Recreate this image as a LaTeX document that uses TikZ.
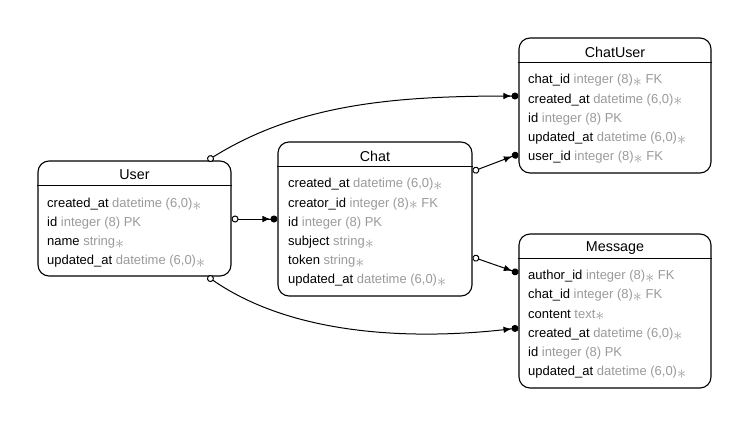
\documentclass[tikz,border=0pt]{standalone}
\usepackage{fontspec}
\usepackage{graphicx}
\setmainfont{Liberation Sans}
\usetikzlibrary{arrows.meta,calc}
\definecolor{tgray}{HTML}{9A9A9A}
\newcommand\erty[1]{\textcolor{tgray}{#1}}
\newcommand\erreq{\textcolor{tgray}{\raisebox{-2.2pt}{\scalebox{1.5}{$\ast$}}}}
\begin{document}
\begin{tikzpicture}[x=1pt,y=-1pt,
  entity/.style={draw, line width=1.1pt, rounded corners=11pt, inner sep=0},
  sepline/.style={line width=1pt},
  etitle/.style={inner sep=0, font=\fontsize{14.3}{16}\selectfont},
  erow/.style={anchor=west, inner sep=0, font=\fontsize{13}{15}\selectfont},
  rel/.style={line width=1pt, {Circle[open,length=7pt,width=7pt,fill=white]}-{Latex[length=8pt,width=6.5pt] Circle[length=7pt,width=7pt]}}
]
\useasboundingbox (0,0) rectangle (749,428);

% ---------- User ----------
\node[entity, minimum width=193pt, minimum height=115pt] (user) at (134.5,218.5) {};
\draw[sepline] ($(user.north west)+(0,25)$) -- ($(user.north east)+(0,25)$);
\node[etitle] (user-t) at ($(user.north)+(0,14.5)$) {User};
\node[erow] (u-created) at (47,204.5) {created\_at \erty{datetime (6,0)}\erreq};
\node[erow] (u-id) at (47,223.5) {id \erty{integer (8) PK}};
\node[erow] (u-name) at (47,242.5) {name \erty{string}\erreq};
\node[erow] (u-updated) at (47,261.5) {updated\_at \erty{datetime (6,0)}\erreq};

% ---------- Chat ----------
\node[entity, minimum width=194pt, minimum height=154pt] (chat) at (375,219) {};
\draw[sepline] ($(chat.north west)+(0,25)$) -- ($(chat.north east)+(0,25)$);
\node[etitle] (chat-t) at ($(chat.north)+(0,14.5)$) {Chat};
\node[erow] (c-created) at (288,184.5) {created\_at \erty{datetime (6,0)}\erreq};
\node[erow] (c-creator) at (288,204) {creator\_id \erty{integer (8)}\erreq\ \erty{FK}};
\node[erow] (c-id) at (288,223.5) {id \erty{integer (8) PK}};
\node[erow] (c-subject) at (288,242.5) {subject \erty{string}\erreq};
\node[erow] (c-token) at (288,261.5) {token \erty{string}\erreq};
\node[erow] (c-updated) at (288,280.5) {updated\_at \erty{datetime (6,0)}\erreq};

% ---------- ChatUser ----------
\node[entity, minimum width=192pt, minimum height=135pt] (chatuser) at (615,105.5) {};
\draw[sepline] ($(chatuser.north west)+(0,25)$) -- ($(chatuser.north east)+(0,25)$);
\node[etitle] (cu-t) at ($(chatuser.north)+(0,14.5)$) {ChatUser};
\node[erow] (cu-chat) at (528,80.5) {chat\_id \erty{integer (8)}\erreq\ \erty{FK}};
\node[erow] (cu-created) at (528,100) {created\_at \erty{datetime (6,0)}\erreq};
\node[erow] (cu-id) at (528,119.5) {id \erty{integer (8) PK}};
\node[erow] (cu-updated) at (528,138.5) {updated\_at \erty{datetime (6,0)}\erreq};
\node[erow] (cu-user) at (528,157.5) {user\_id \erty{integer (8)}\erreq\ \erty{FK}};

% ---------- Message ----------
\node[entity, minimum width=192pt, minimum height=154pt] (message) at (615,311) {};
\draw[sepline] ($(message.north west)+(0,25)$) -- ($(message.north east)+(0,25)$);
\node[etitle] (m-t) at ($(message.north)+(0,14.5)$) {Message};
\node[erow] (m-author) at (528,276.5) {author\_id \erty{integer (8)}\erreq\ \erty{FK}};
\node[erow] (m-chat) at (528,295.5) {chat\_id \erty{integer (8)}\erreq\ \erty{FK}};
\node[erow] (m-content) at (528,315) {content \erty{text}\erreq};
\node[erow] (m-created) at (528,334.5) {created\_at \erty{datetime (6,0)}\erreq};
\node[erow] (m-id) at (528,353.5) {id \erty{integer (8) PK}};
\node[erow] (m-updated) at (528,372.5) {updated\_at \erty{datetime (6,0)}\erreq};

% ---------- relations ----------
\draw[rel] ($(user.north east)+(-24,0)$) .. controls +(93,-58) and +(-119,0) .. ($(chatuser.west |- cu-created.west)+(0,-4)$);
\draw[rel] ($(user.east |- u-id.west)+(0,-4.5)$) -- ($(chat.west |- c-id.west)+(0,-4.5)$);
\draw[rel] ($(chat.north east)+(0,30)$) -- ($(chatuser.west |- cu-user.west)+(0,-3.5)$);
\draw[rel] ($(chat.east |- c-token.west)+(0,-4.5)$) -- ($(message.west |- m-author.west)+(0,-3.5)$);
\draw[rel] ($(user.south east)+(-24,0)$) .. controls +(88,61) and +(-99,12) .. ($(message.west |- m-created.west)+(0,-6.5)$);
\end{tikzpicture}
\end{document}
